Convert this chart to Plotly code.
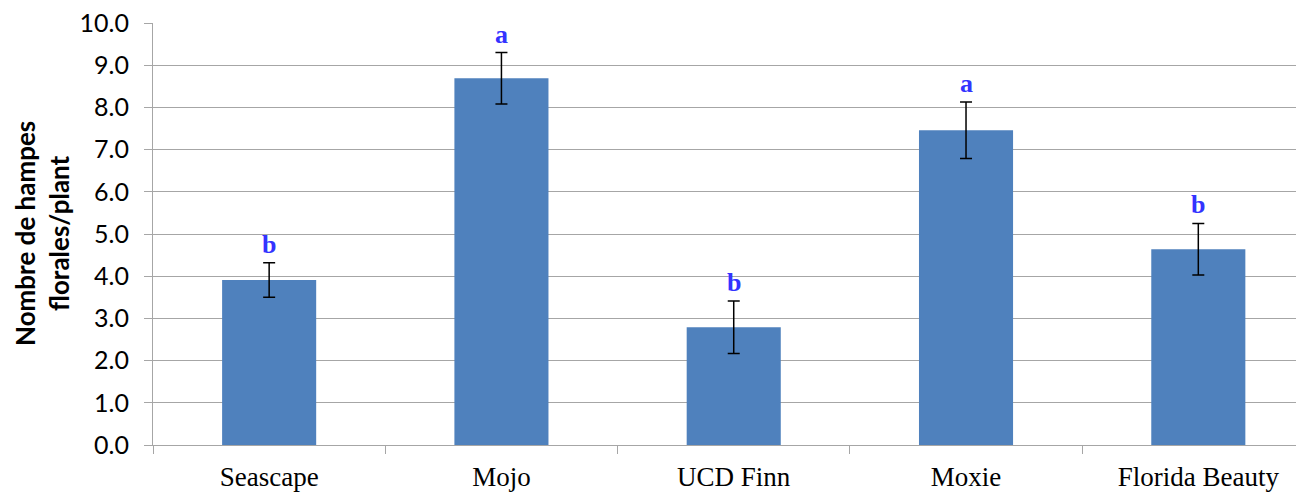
import plotly.graph_objects as go

categories = ["Seascape", "Mojo", "UCD Finn", "Moxie", "Florida Beauty"]
means = [3.91, 8.69, 2.79, 7.46, 4.64]
errors = [0.41, 0.61, 0.62, 0.67, 0.61]
letters = ["b", "a", "b", "a", "b"]
y_ticks = [0, 1, 2, 3, 4, 5, 6, 7, 8, 9, 10]
y_tick_labels = [f"{v:.1f}" for v in y_ticks]

GRID = "#A6A6A6"

fig = go.Figure()
fig.add_trace(go.Bar(
    x=categories, y=means,
    marker=dict(color="#4F81BD", line=dict(width=0)),
    error_y=dict(type="data", array=errors, visible=True,
                 color="black", thickness=1.5, width=6),
    showlegend=False,
))

for c, m, e, l in zip(categories, means, errors, letters):
    fig.add_annotation(x=c, y=m + e, text=f"<b>{l}</b>", showarrow=False,
                       xanchor="center", yanchor="bottom", yshift=2,
                       font=dict(family="Liberation Serif", size=26, color="#3333FF"))

fig.add_annotation(xref="paper", yref="paper",
                   x=(42 - 153) / 1151, y=0.5,
                   text="<b>Nombre de hampes<br>florales/plant</b>",
                   textangle=-90, showarrow=False,
                   xanchor="center", yanchor="middle",
                   font=dict(family="Lato", size=26, color="black"))

fig.update_layout(
    width=1296, height=484,
    margin=dict(l=145, r=0, t=15, b=47, autoexpand=False),
    paper_bgcolor="white", plot_bgcolor="white",
    bargap=0.595,
    xaxis=dict(
        type="category", range=[-0.5, 4.455], automargin=False,
        showline=True, linecolor=GRID, linewidth=1,
        ticks="outside", tickson="boundaries", ticklen=8, tickcolor=GRID,
        tickfont=dict(family="Liberation Serif", size=27, color="black"),
        ticklabelstandoff=8, ticklabeloverflow="allow",
        showgrid=False, fixedrange=True,
    ),
    yaxis=dict(
        range=[0, 10.0005], tickvals=y_ticks, ticktext=y_tick_labels,
        automargin=False,
        showgrid=True, gridcolor=GRID, gridwidth=1,
        showline=True, linecolor=GRID, linewidth=1,
        ticks="outside", ticklen=8, tickcolor=GRID,
        tickfont=dict(family="Lato", size=25, color="black"),
        ticklabelstandoff=10, ticklabeloverflow="allow",
        zeroline=False, fixedrange=True,
    ),
)

fig.write_html("out.html")
